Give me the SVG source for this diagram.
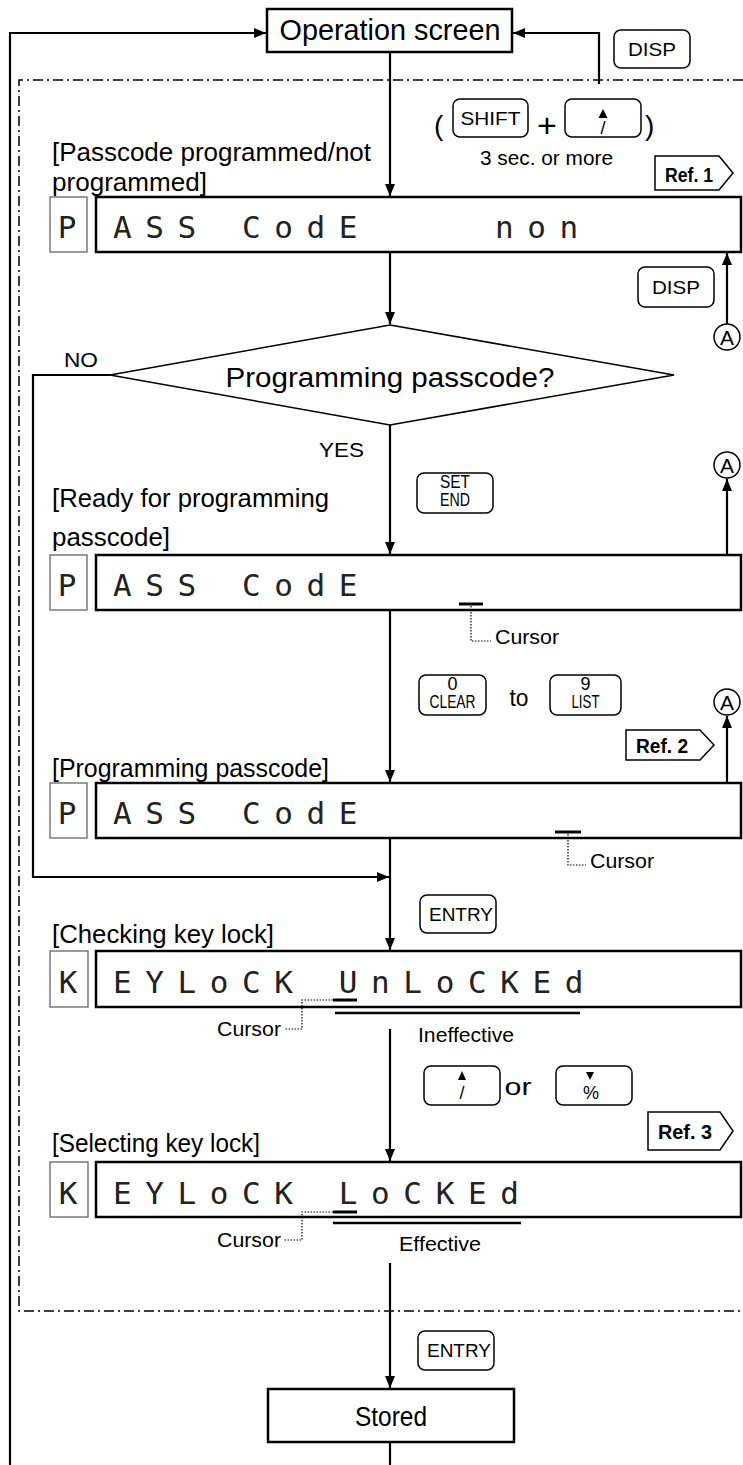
<svg xmlns="http://www.w3.org/2000/svg" width="743" height="1465" viewBox="0 0 743 1465">
<defs>
<marker id="ah" markerWidth="12" markerHeight="10" refX="12" refY="5" orient="auto" markerUnits="userSpaceOnUse"><path d="M0,0 L12,5 L0,10 Z" fill="#000"/></marker>
</defs>
<style>
.ln{fill:none;stroke:#000;stroke-width:2.2}
.t{font-family:"Liberation Sans",Arial,sans-serif;fill:#000}
.lbl{font-size:26px}
.sm{font-size:21px}
.key{fill:#fff;stroke:#000;stroke-width:1.5}
.kt{font-family:"Liberation Sans",Arial,sans-serif;font-size:18px;text-anchor:middle;fill:#000}
.box{fill:#fff;stroke:#000;stroke-width:2.5}
.disp{fill:#fff;stroke:#000;stroke-width:2.5}
.pbox{fill:#fff;stroke:#666;stroke-width:1.3}
.seg{font-family:"DejaVu Sans Mono",monospace;font-size:31px;letter-spacing:13.6px;fill:#222}
.segc{font-family:"DejaVu Sans Mono",monospace;font-size:31px;fill:#222;text-anchor:middle}
.dd{fill:none;stroke:#000;stroke-width:1.5;stroke-dasharray:10 4 2 4}
.dot{fill:none;stroke:#000;stroke-width:1.2;stroke-dasharray:1.5 1.5}
.cur{stroke:#000;stroke-width:3}
.ul{stroke:#000;stroke-width:2.5}
.ref{fill:#fff;stroke:#000;stroke-width:1.5}
.rt{font-family:"Liberation Sans",Arial,sans-serif;font-size:21px;font-weight:bold;fill:#000}
.circ{fill:#fff;stroke:#000;stroke-width:1.5}
</style>
<rect width="743" height="1465" fill="#fff"/>

<path id="frame" class="dd" d="M743,80 H19 V1311 H743"/>

<g id="connectors">
<path class="ln" d="M10,1465 V33 H266" marker-end="url(#ah)"/>
<path class="ln" d="M390,52 V196" marker-end="url(#ah)"/>
<path class="ln" d="M599,84 V33 H513" marker-end="url(#ah)"/>
<path class="ln" d="M390,252 V324" marker-end="url(#ah)"/>
<path class="ln" d="M727,324 V253" marker-end="url(#ah)"/>
<path class="ln" d="M390,425 V554" marker-end="url(#ah)"/>
<path class="ln" d="M727,555 V479" marker-end="url(#ah)"/>
<path class="ln" d="M390,610 V782" marker-end="url(#ah)"/>
<path class="ln" d="M727,783 V716" marker-end="url(#ah)"/>
<path class="ln" d="M110,375 H33 V877 H389" marker-end="url(#ah)"/>
<path class="ln" d="M390,838 V950" marker-end="url(#ah)"/>
<path class="ln" d="M390,1029 V1161" marker-end="url(#ah)"/>
<path class="ln" d="M390,1263 V1388" marker-end="url(#ah)"/>
<path class="ln" d="M390,1442 V1465"/>
</g>

<g id="operation-screen">
<rect class="box" x="267" y="9" width="245" height="43"/>
<text class="t" x="390" y="40" font-size="29" text-anchor="middle" textLength="221" lengthAdjust="spacingAndGlyphs">Operation screen</text>
</g>

<g id="key-disp-top">
<rect class="key" x="614" y="30" width="76" height="38" rx="7"/>
<text class="kt" x="652" y="56" font-size="19" textLength="48" lengthAdjust="spacingAndGlyphs">DISP</text>
</g>

<g id="key-shift-up">
<text class="t" x="434" y="135" font-size="28">(</text>
<rect class="key" x="453" y="99" width="75" height="38" rx="7"/>
<text class="kt" x="490.5" y="125" font-size="19" textLength="60" lengthAdjust="spacingAndGlyphs">SHIFT</text>
<text class="t" x="547" y="137" font-size="34" text-anchor="middle">+</text>
<rect class="key" x="565" y="99" width="76" height="38" rx="7"/>
<polygon points="603,109 598.5,118 607.5,118" fill="#000"/>
<text class="kt" x="603" y="134" font-size="16">/</text>
<text class="t" x="645" y="135" font-size="28">)</text>
<text class="t sm" x="480" y="165" textLength="133" lengthAdjust="spacingAndGlyphs">3 sec. or more</text>
</g>

<g id="ref1">
<polygon class="ref" points="655,156 719,156 733,173 719,190 655,190"/>
<text class="rt" x="665" y="182" textLength="48" lengthAdjust="spacingAndGlyphs">Ref. 1</text>
</g>

<g id="display-passcode">
<text class="t lbl" x="52" y="161" textLength="319" lengthAdjust="spacingAndGlyphs">[Passcode programmed/not</text>
<text class="t lbl" x="52" y="191" textLength="155" lengthAdjust="spacingAndGlyphs">programmed]</text>
<rect class="pbox" x="50" y="197" width="37" height="55"/>
<rect class="disp" x="96" y="197" width="645" height="55"/>
<text class="segc" x="67" y="238">P</text>
<text class="seg" x="113" y="238">ASS CodE</text>
<text class="seg" x="495" y="238">non</text>
</g>

<g id="key-disp-2">
<rect class="key" x="638" y="267" width="76" height="40" rx="7"/>
<text class="kt" x="676" y="294" font-size="19" textLength="48" lengthAdjust="spacingAndGlyphs">DISP</text>
</g>

<g id="a1">
<circle class="circ" cx="727" cy="337" r="13"/>
<text class="t" x="727" y="345" font-size="21" text-anchor="middle">A</text>
</g>

<g id="decision">
<polygon points="390,325 674,375 390,425 110,375" fill="#fff" stroke="#000" stroke-width="1.5"/>
<text class="t" x="390" y="387" font-size="27" text-anchor="middle" textLength="329" lengthAdjust="spacingAndGlyphs">Programming passcode?</text>
<text class="t sm" x="64" y="367" textLength="34" lengthAdjust="spacingAndGlyphs">NO</text>
<text class="t sm" x="319" y="457" textLength="45" lengthAdjust="spacingAndGlyphs">YES</text>
</g>

<g id="key-set-end">
<rect class="key" x="417" y="473" width="76" height="40" rx="7"/>
<text class="kt" x="455" y="488" font-size="13" textLength="30" lengthAdjust="spacingAndGlyphs">SET</text>
<text class="kt" x="455" y="506" font-size="13" textLength="30" lengthAdjust="spacingAndGlyphs">END</text>
</g>

<g id="a2">
<circle class="circ" cx="727" cy="465" r="13"/>
<text class="t" x="727" y="473" font-size="21" text-anchor="middle">A</text>
</g>

<g id="display-ready">
<text class="t lbl" x="52" y="507" textLength="277" lengthAdjust="spacingAndGlyphs">[Ready for programming</text>
<text class="t lbl" x="52" y="546" textLength="118" lengthAdjust="spacingAndGlyphs">passcode]</text>
<rect class="pbox" x="50" y="555" width="37" height="55"/>
<rect class="disp" x="96" y="555" width="645" height="55"/>
<text class="segc" x="67" y="596">P</text>
<text class="seg" x="113" y="596">ASS CodE</text>
<line class="cur" x1="459" y1="604" x2="483" y2="604"/>
<path class="dot" d="M471,606 V641 H491"/>
<text class="t sm" x="495" y="644" textLength="64" lengthAdjust="spacingAndGlyphs">Cursor</text>
</g>

<g id="key-0-9">
<rect class="key" x="419" y="675" width="67" height="40" rx="7"/>
<text class="kt" x="452.5" y="690" font-size="13">0</text>
<text class="kt" x="452.5" y="708" font-size="13" textLength="46" lengthAdjust="spacingAndGlyphs">CLEAR</text>
<text class="t" x="519" y="706" font-size="24" text-anchor="middle" textLength="19" lengthAdjust="spacingAndGlyphs">to</text>
<rect class="key" x="550" y="675" width="71" height="40" rx="7"/>
<text class="kt" x="585.5" y="690" font-size="13">9</text>
<text class="kt" x="585.5" y="708" font-size="13" textLength="28" lengthAdjust="spacingAndGlyphs">LIST</text>
</g>

<g id="a3">
<circle class="circ" cx="727" cy="702" r="13"/>
<text class="t" x="727" y="710" font-size="21" text-anchor="middle">A</text>
</g>

<g id="ref2">
<polygon class="ref" points="626,730 700,730 714,745 700,760 626,760"/>
<text class="rt" x="636" y="753" textLength="52" lengthAdjust="spacingAndGlyphs">Ref. 2</text>
</g>

<g id="display-programming">
<text class="t lbl" x="52" y="777" textLength="277" lengthAdjust="spacingAndGlyphs">[Programming passcode]</text>
<rect class="pbox" x="50" y="783" width="37" height="55"/>
<rect class="disp" x="96" y="783" width="645" height="55"/>
<text class="segc" x="67" y="824">P</text>
<text class="seg" x="113" y="824">ASS CodE</text>
<line class="cur" x1="555" y1="832" x2="581" y2="832"/>
<path class="dot" d="M568,834 V865 H586"/>
<text class="t sm" x="590" y="868" textLength="64" lengthAdjust="spacingAndGlyphs">Cursor</text>
</g>

<g id="key-entry-1">
<rect class="key" x="420" y="895" width="76" height="38" rx="7"/>
<text class="kt" x="461" y="921" font-size="19" textLength="64" lengthAdjust="spacingAndGlyphs">ENTRY</text>
</g>

<g id="display-checking">
<text class="t lbl" x="52" y="943" textLength="222" lengthAdjust="spacingAndGlyphs">[Checking key lock]</text>
<rect class="pbox" x="50" y="951" width="38" height="56"/>
<rect class="disp" x="96" y="951" width="645" height="56"/>
<text class="segc" x="68" y="993">K</text>
<text class="seg" x="113" y="993">EYLoCK UnLoCKEd</text>
<line class="cur" x1="333" y1="1000" x2="357" y2="1000"/>
<path class="dot" d="M333,1000 H302 V1029 H284"/>
<text class="t sm" x="281" y="1036" text-anchor="end" textLength="64" lengthAdjust="spacingAndGlyphs">Cursor</text>
<line class="ul" x1="335" y1="1013" x2="580" y2="1013"/>
<text class="t sm" x="418" y="1042" textLength="96" lengthAdjust="spacingAndGlyphs">Ineffective</text>
</g>

<g id="key-up-down">
<rect class="key" x="424" y="1066" width="76" height="39" rx="7"/>
<polygon points="462,1071 458,1080 466,1080" fill="#000"/>
<text class="kt" x="462" y="1099" font-size="16">/</text>
<text class="t" x="518" y="1095" font-size="24" text-anchor="middle" textLength="27" lengthAdjust="spacingAndGlyphs">or</text>
<rect class="key" x="556" y="1066" width="76" height="39" rx="7"/>
<polygon points="586,1072 594,1072 590,1080" fill="#000"/>
<text class="kt" x="591" y="1099" font-size="15">%</text>
</g>

<g id="ref3">
<polygon class="ref" points="648,1112 720,1112 733,1131 720,1150 648,1150"/>
<text class="rt" x="658" y="1139" textLength="54" lengthAdjust="spacingAndGlyphs">Ref. 3</text>
</g>

<g id="display-selecting">
<text class="t lbl" x="52" y="1152" textLength="208" lengthAdjust="spacingAndGlyphs">[Selecting key lock]</text>
<rect class="pbox" x="50" y="1162" width="38" height="55"/>
<rect class="disp" x="96" y="1162" width="645" height="55"/>
<text class="segc" x="68" y="1204">K</text>
<text class="seg" x="113" y="1204">EYLoCK LoCKEd</text>
<line class="cur" x1="333" y1="1212" x2="357" y2="1212"/>
<path class="dot" d="M333,1212 H302 V1240 H284"/>
<text class="t sm" x="281" y="1247" text-anchor="end" textLength="64" lengthAdjust="spacingAndGlyphs">Cursor</text>
<line class="ul" x1="333" y1="1223" x2="521" y2="1223"/>
<text class="t sm" x="399" y="1251" textLength="82" lengthAdjust="spacingAndGlyphs">Effective</text>
</g>

<g id="key-entry-2">
<rect class="key" x="418" y="1331" width="76" height="39" rx="7"/>
<text class="kt" x="459" y="1357" font-size="19" textLength="64" lengthAdjust="spacingAndGlyphs">ENTRY</text>
</g>

<g id="stored">
<rect class="box" x="268" y="1389" width="246" height="53"/>
<text class="t" x="391" y="1426" font-size="27" text-anchor="middle" textLength="72" lengthAdjust="spacingAndGlyphs">Stored</text>
</g>
</svg>
